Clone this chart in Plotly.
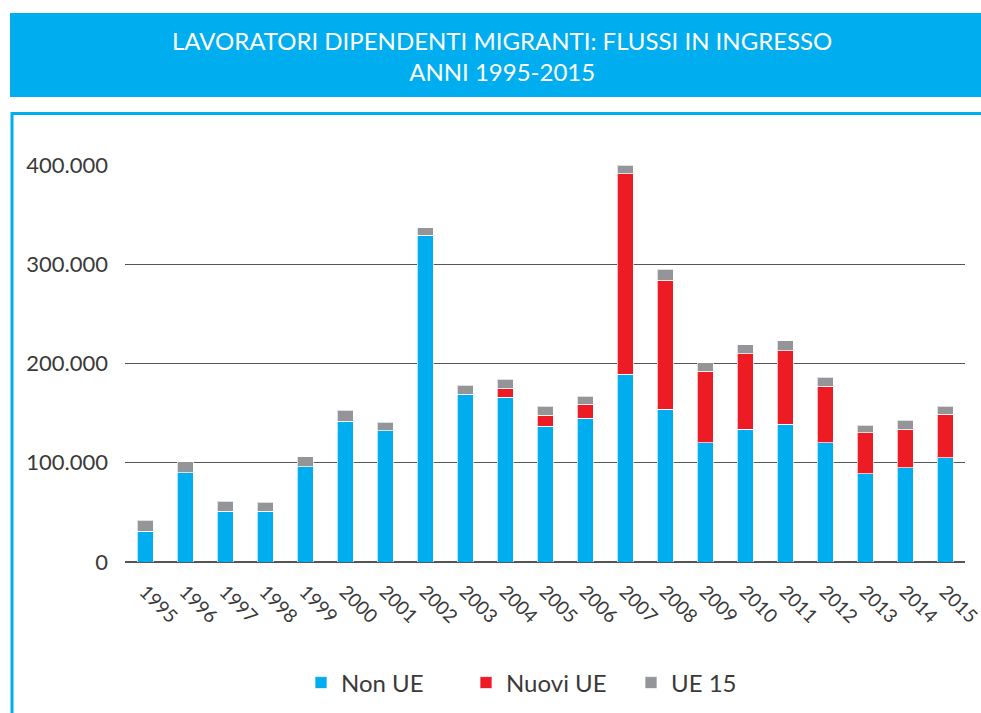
import plotly.graph_objects as go

years = [str(y) for y in range(1995, 2016)]
non_ue = [31000, 90000, 51000, 51000, 96000, 142000, 132000, 329000, 169000, 166000, 137000,
          145000, 189000, 154000, 120000, 134000, 139000, 120000, 89000, 95000, 105000]
nuovi_ue = [0, 0, 0, 0, 0, 0, 0, 0, 0, 9000, 11000, 14000, 202000, 130000, 72000, 76000,
            74000, 57000, 41000, 39000, 44000]
ue15 = [11000, 11000, 10000, 9000, 10000, 11000, 9000, 8000, 9000, 9000, 9000, 8000,
        9000, 11000, 9000, 9000, 10000, 9000, 8000, 9000, 8000]
y_ticks = [0, 100000, 200000, 300000, 400000]

BLUE = "#00AEEF"
RED = "#ED1C24"
GRAY = "#939598"
FONT = "Lato"
TXT = "#3a3a3a"

fig = go.Figure()
for name, vals, col in [("Non UE", non_ue, BLUE), ("Nuovi UE", nuovi_ue, RED), ("UE 15", ue15, GRAY)]:
    fig.add_trace(go.Bar(x=years, y=vals, name=name, marker_color=col,
                         marker_line=dict(color="rgba(255,255,255,0.7)", width=1)))

# window coords of plot area: x 125..965, y 165..562 (body margin removed below)
W, H = 981, 713
L, R, T, B = 125, 965, 165, 562
def px(x):
    return (x - L) / (R - L)
def py(y):
    return (B - y) / (B - T)

shapes = [
    dict(type="rect", xref="paper", yref="paper", x0=px(10), x1=px(990), y0=py(97), y1=py(13),
         fillcolor=BLUE, line_width=0, layer="below"),
    dict(type="line", xref="paper", yref="paper", x0=px(11), x1=px(990), y0=py(113.5), y1=py(113.5),
         line=dict(color=BLUE, width=3)),
    dict(type="line", xref="paper", yref="paper", x0=px(12), x1=px(12), y0=py(112), y1=py(720),
         line=dict(color=BLUE, width=3)),
]

annotations = [
    dict(text="LAVORATORI DIPENDENTI MIGRANTI: FLUSSI IN INGRESSO<br>ANNI 1995-2015",
         xref="paper", yref="paper", x=px(502), y=py(56), xanchor="center", yanchor="middle",
         showarrow=False, align="center", font=dict(family=FONT, size=24, color="white")),
]

fig.update_layout(
    barmode="stack",
    bargap=0.6,
    width=W, height=H,
    margin=dict(l=L, r=W - R, t=T, b=H - B, autoexpand=False),
    paper_bgcolor="white", plot_bgcolor="white",
    separators=",.",
    font=dict(family=FONT, color=TXT),
    shapes=shapes,
    annotations=annotations,
    showlegend=True,
    legend=dict(orientation="h", x=px(301), xanchor="left", y=py(683), yanchor="middle",
                font=dict(size=24, color=TXT), entrywidth=120, traceorder="normal"),
    xaxis=dict(tickangle=45, tickfont=dict(size=19, color=TXT), showgrid=False, automargin=False,
               showline=False, ticks="", ticklen=0, ticklabelstandoff=14),
    yaxis=dict(range=[0, 400000], tickvals=y_ticks, tickformat=",d", automargin=False,
               tickfont=dict(size=22, color=TXT), showgrid=True, gridcolor="#555555",
               gridwidth=1.2, zeroline=True, zerolinecolor="#555555", zerolinewidth=1.5,
               ticks="", ticklabelstandoff=16),
)

fig.write_html("out.html", config={"displayModeBar": False},
               post_script="document.body.style.margin='0';document.body.style.overflow='hidden';")
